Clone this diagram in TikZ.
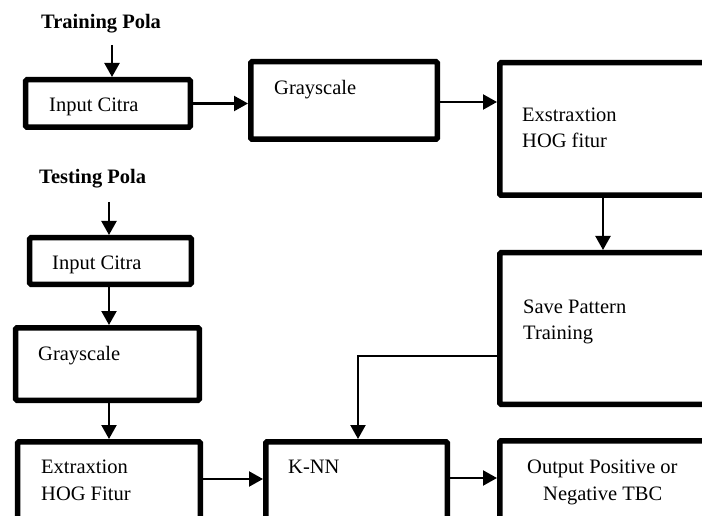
\documentclass[tikz,border=0pt]{standalone}
\usepackage{fontspec}
\setmainfont{Liberation Serif}
\usetikzlibrary{arrows.meta}
\begin{document}
\begin{tikzpicture}[x=1bp,y=-1bp,
  blk/.style={draw, line width=5.5bp, rounded corners=1.2bp, inner sep=0pt},
  lbl/.style={anchor=base west, inner sep=0pt, font=\fontsize{20.5bp}{27bp}\selectfont},
  ttl/.style={lbl, font=\fontsize{20.5bp}{27bp}\selectfont\bfseries},
  arr/.style={-{Triangle[length=14bp,width=15bp]}, line width=2.2bp}]
\useasboundingbox (0,0) rectangle (702,516);
\clip (0,0) rectangle (702,516);
% boxes: center and size from outer rectangle
\newcommand{\mkbox}[5]{%
  \pgfmathsetmacro{\bw}{#4-#2-5.5}\pgfmathsetmacro{\bh}{#5-#3-5.5}%
  \node[blk, minimum width=\bw bp, minimum height=\bh bp] (#1) at ({(#2+#4)/2},{(#3+#5)/2}) {};}
\mkbox{inA}{23}{77}{193}{130}
\mkbox{grayA}{248}{59}{440}{142}
\mkbox{extA}{497}{60}{740}{198}
\mkbox{save}{497}{250}{740}{407}
\mkbox{inB}{27}{235}{194}{287}
\mkbox{grayB}{13}{325}{202}{403}
\mkbox{extB}{15}{439}{203}{560}
\mkbox{knn}{263}{439}{450}{560}
\mkbox{out}{497}{438}{740}{560}
% texts
\node[ttl] (ttrain) at (41,29) {Training Pola};
\node[ttl] (ttest) at (39,184) {Testing Pola};
\node[lbl] (tinA) at (49,112) {Input Citra};
\node[lbl] (tgrayA) at (274,95) {Grayscale};
\node[lbl] (textA1) at (522,122) {Exstraxtion};
\node[lbl] (textA2) at (522,148) {HOG fitur};
\node[lbl] (tsave1) at (523,313) {Save Pattern};
\node[lbl] (tsave2) at (523,339) {Training};
\node[lbl] (tinB) at (52,270) {Input Citra};
\node[lbl] (tgrayB) at (38,360) {Grayscale};
\node[lbl] (textB1) at (41,473) {Extraxtion};
\node[lbl] (textB2) at (41,500) {HOG Fitur};
\node[lbl] (tknn) at (288,473) {K-NN};
\node[lbl] (tout1) at (527,473) {Output Positive or};
\node[lbl] (tout2) at (543,500) {Negative TBC};
% connectors
\coordinate (sA) at (112,45);
\coordinate (sB) at (109,202);
\draw[arr] (sA) -- (sA |- inA.north);
\draw[arr] (inA.east) -- (inA.east -| grayA.west);
\draw[arr] (440,102 -| grayA.east) -- (440,102 -| extA.west);
\draw[arr] (603,0 |- extA.south) -- (603,0 |- save.north);
\draw[arr] (save.west |- 0,356) -| (358,0 |- knn.north);
\draw[arr] (sB) -- (sB |- inB.north);
\draw[arr] (109,0 |- inB.south) -- (109,0 |- grayB.north);
\draw[arr] (109,0 |- grayB.south) -- (109,0 |- extB.north);
\draw[arr] (extB.east |- 0,479) -- (knn.west |- 0,479);
\draw[arr] (knn.east |- 0,478) -- (out.west |- 0,478);
\end{tikzpicture}
\end{document}
